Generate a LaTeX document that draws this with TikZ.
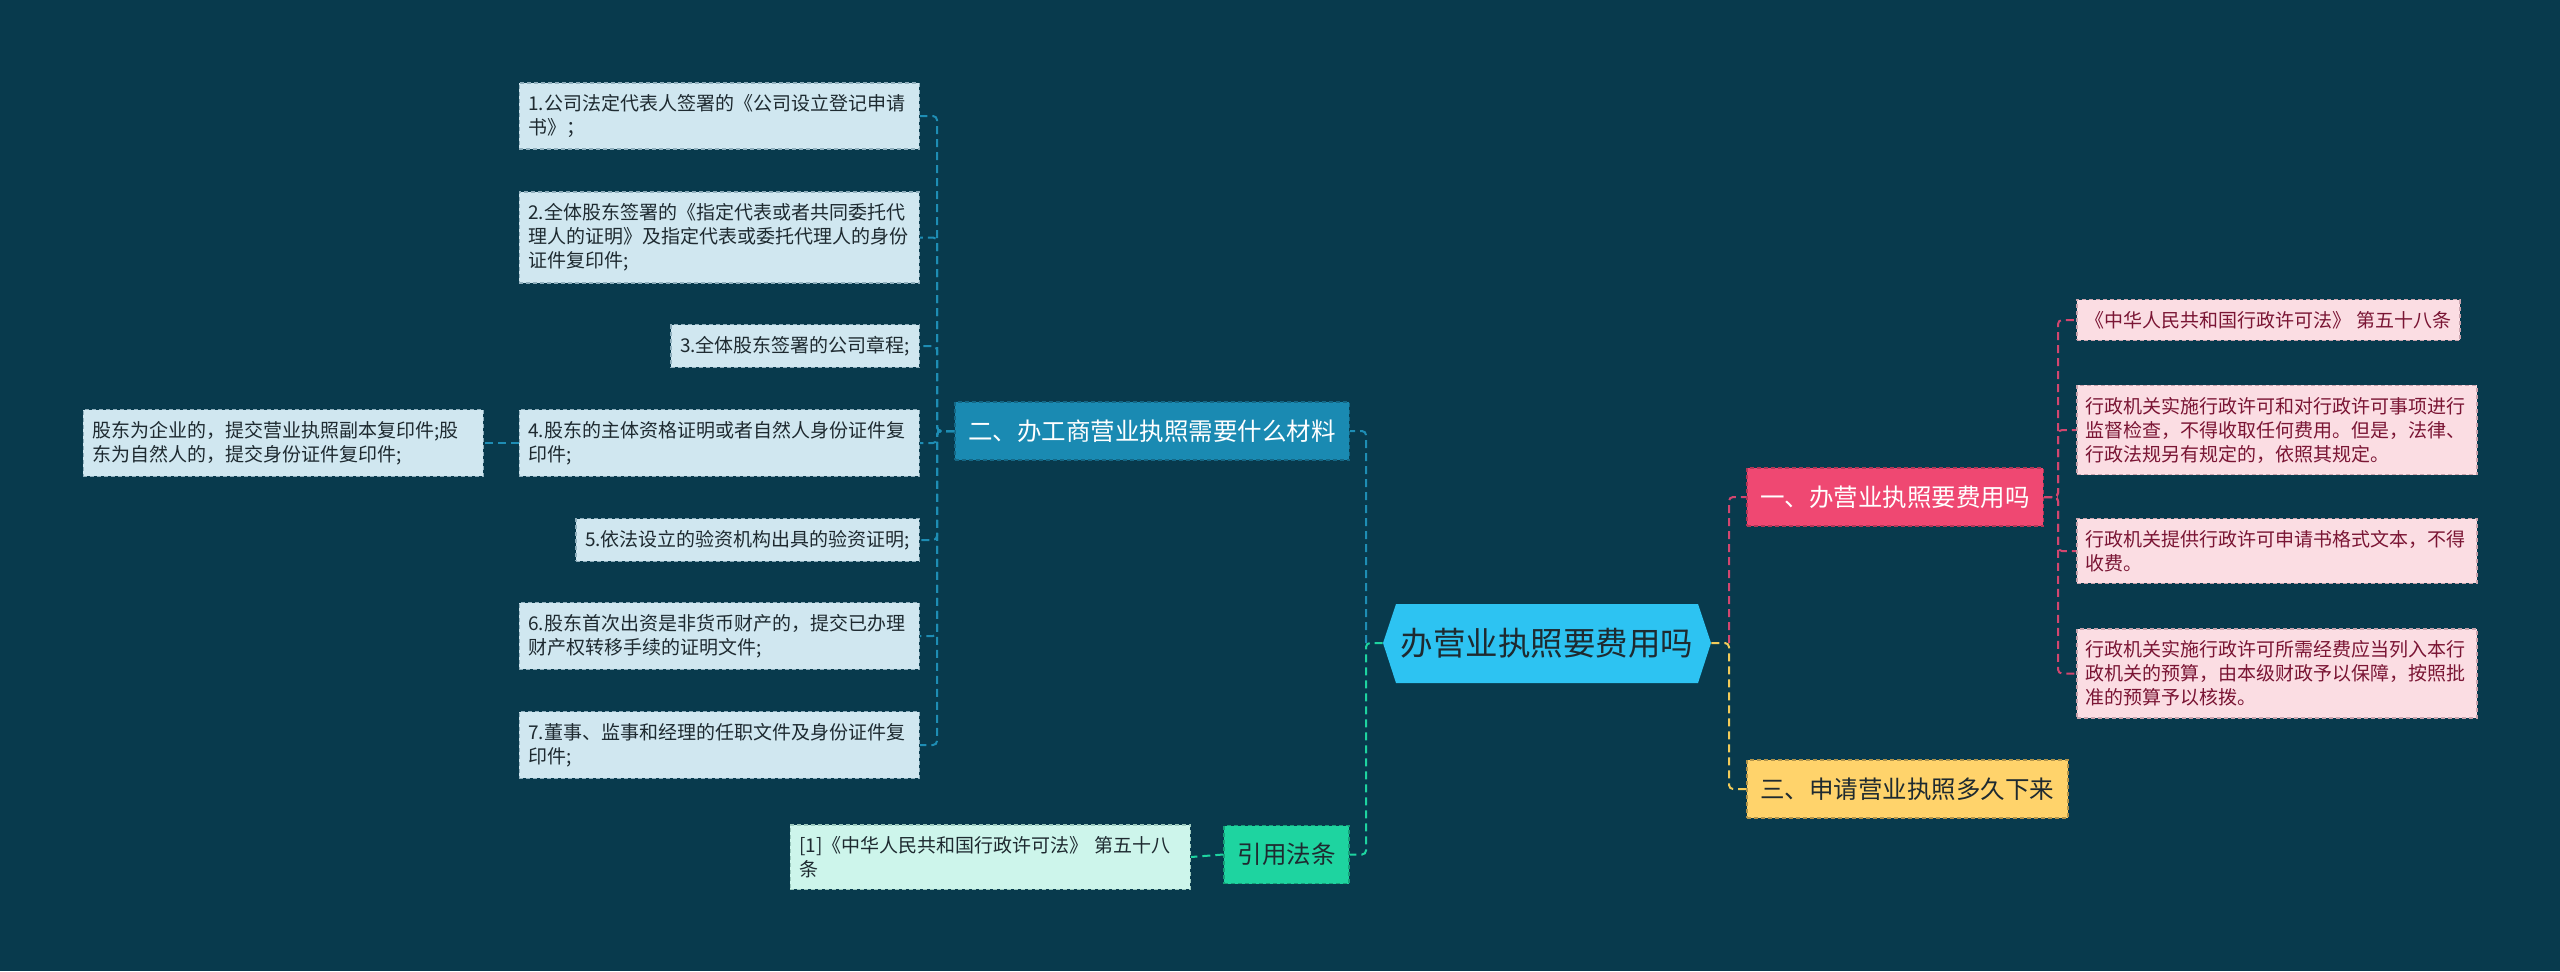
\documentclass[tikz,border=0pt]{standalone}
\usepackage{fontspec}
\setmainfont{Noto Sans CJK SC}
\usetikzlibrary{calc}
\definecolor{bg}{HTML}{083A4D}
\definecolor{leafF}{HTML}{D0E7F0}
\definecolor{leafD}{HTML}{8FAFBD}
\definecolor{blueL}{HTML}{1E8DB4}
\definecolor{erF}{HTML}{1A8AB2}
\definecolor{cenF}{HTML}{2DC3F2}
\definecolor{yiF}{HTML}{EF4872}
\definecolor{pinkL}{HTML}{D2466F}
\definecolor{rleafF}{HTML}{FBDDE3}
\definecolor{rleafD}{HTML}{C9A3AD}
\definecolor{rtext}{HTML}{7A1534}
\definecolor{sanF}{HTML}{FFD36B}
\definecolor{yelL}{HTML}{F2CB5A}
\definecolor{grF}{HTML}{1ED4A0}
\definecolor{grL}{HTML}{1ED4A0}
\definecolor{refF}{HTML}{CDF5EB}
\definecolor{refD}{HTML}{9CC9BE}
\definecolor{darktext}{HTML}{1E2A30}
\begin{document}
\begin{tikzpicture}[x=0.5pt,y=-0.5pt,
  boxline/.style={dash pattern=on 2pt off 1.5pt, line width=0.75pt},
  leaf/.style={boxline, draw=leafD, fill=leafF, text=darktext,
    font=\fontsize{9.5pt}{12pt}\selectfont, inner xsep=4.5pt, inner ysep=5.75pt, align=left},
  rleaf/.style={leaf, draw=rleafD, fill=rleafF, text=rtext},
  refleaf/.style={leaf, draw=refD, fill=refF},
  wide/.style={text width=191pt},
  branch/.style={boxline, font=\fontsize{12.25pt}{14pt}\selectfont, inner xsep=6.75pt,
    inner ysep=0pt, minimum height=29pt},
  conn/.style={line width=1pt, dash pattern=on 4pt off 2.5pt, rounded corners=2pt}
]
\useasboundingbox (0,0) rectangle (2560,971);
\fill[bg] (0,0) rectangle (2560,971);

% centre hexagon
\fill[cenF] (1383,643) -- (1396,604) -- (1698,604) -- (1711,643) -- (1698,683) -- (1396,683) -- cycle;
\node[font=\fontsize{16.25pt}{18pt}\selectfont, text=darktext, minimum width=164pt,
  minimum height=39.5pt, inner sep=0pt] (c) at (1547,643) {办营业执照要费用吗};

% main branches
\node[branch, draw=erF!75!black, fill=erF, text=white] (er) at (1152,431) {二、办工商营业执照需要什么材料};
\node[branch, draw=grF!75!black, fill=grF, text=darktext] (yy) at (1286.5,854.5) {引用法条};
\node[branch, draw=yiF!75!black, fill=yiF, text=white, anchor=west] (yi) at (1746,497) {一、办营业执照要费用吗};
\node[branch, draw=sanF!70!black, fill=sanF, text=darktext, anchor=west] (san) at (1746,789) {三、申请营业执照多久下来};

% left leaves
\node[leaf, wide, anchor=east] (n1) at (920,116) {1.公司法定代表人签署的《公司设立登记申请\\书》；};
\node[leaf, wide, anchor=east] (n2) at (920,237.5) {2.全体股东签署的《指定代表或者共同委托代\\理人的证明》及指定代表或委托代理人的身份\\证件复印件;};
\node[leaf, anchor=east] (n3) at (920,346) {3.全体股东签署的公司章程;};
\node[leaf, wide, anchor=east] (n4) at (920,443) {4.股东的主体资格证明或者自然人身份证件复\\印件;};
\node[leaf, anchor=east] (n5) at (920,540) {5.依法设立的验资机构出具的验资证明;};
\node[leaf, wide, anchor=east] (n6) at (920,636) {6.股东首次出资是非货币财产的，提交已办理\\财产权转移手续的证明文件;};
\node[leaf, wide, anchor=east] (n7) at (920,745) {7.董事、监事和经理的任职文件及身份证件复\\印件;};
\node[leaf, wide, anchor=east] (lf) at (484,443) {股东为企业的，提交营业执照副本复印件;股\\东为自然人的，提交身份证件复印件;};
\node[refleaf, wide, anchor=east] (ref) at (1191,857) {[1]《中华人民共和国行政许可法》 第五十八\\条};

% right leaves
\node[rleaf, anchor=west] (r1) at (2076,320) {《中华人民共和国行政许可法》 第五十八条};
\node[rleaf, wide, anchor=west] (r2) at (2076,430) {行政机关实施行政许可和对行政许可事项进行\\监督检查，不得收取任何费用。但是，法律、\\行政法规另有规定的，依照其规定。};
\node[rleaf, wide, anchor=west] (r3) at (2076,551) {行政机关提供行政许可申请书格式文本，不得\\收费。};
\node[rleaf, wide, anchor=west] (r4) at (2076,673.5) {行政机关实施行政许可所需经费应当列入本行\\政机关的预算，由本级财政予以保障，按照批\\准的预算予以核拨。};

% junctions
\coordinate (jl) at (1366,643);
\coordinate (jr) at (1729,643);
\coordinate (je) at (937,431);
\coordinate (jy) at (2058,497);

% connectors
\draw[conn, blueL] (jl) |- (er.east);
\draw[conn, grL] (c.west) -- (jl) |- (yy.east);
\draw[conn, pinkL] (jr) |- (yi.west);
\draw[conn, yelL] (c.east) -- (jr) |- (san.west);

\foreach \n in {n1,n2,n3,n4,n5,n6,n7}
  \draw[conn, blueL] (er.west) -- (je) |- (\n.east);
\draw[conn, blueL] (n4.west) -- (lf.east);
\draw[conn, grL] (yy.west) -- (ref.east);
\foreach \n in {r1,r2,r3,r4}
  \draw[conn, pinkL] (yi.east) -- (jy) |- (\n.west);
\end{tikzpicture}
\end{document}
